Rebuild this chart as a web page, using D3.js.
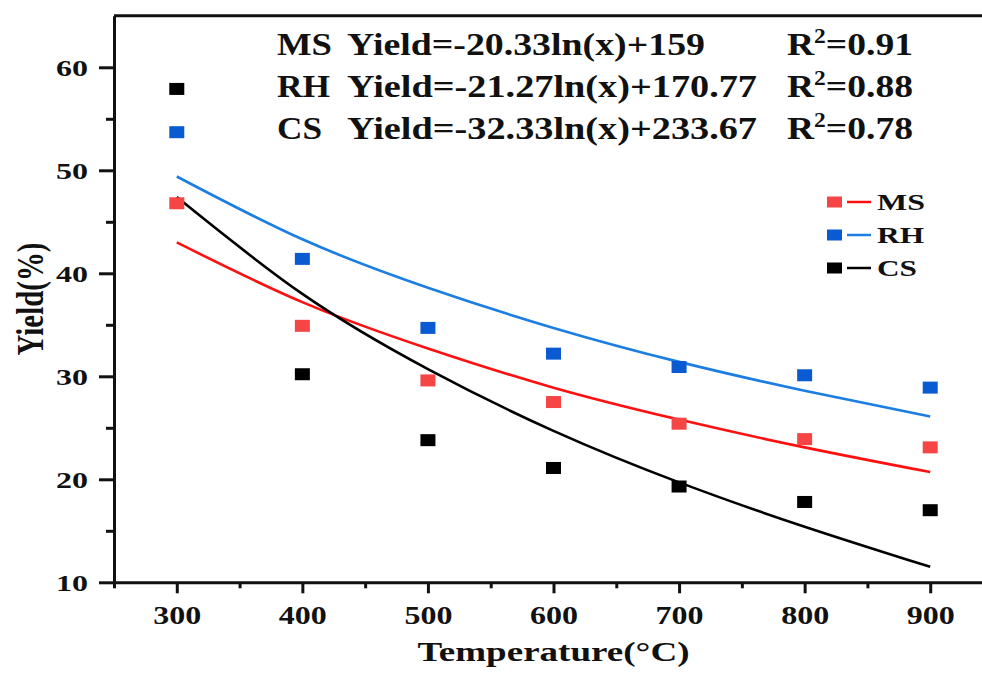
<!DOCTYPE html>
<html>
<head>
<meta charset="utf-8">
<script src="https://cdn.jsdelivr.net/npm/d3@7"></script>
<style>
  html, body { margin: 0; padding: 0; background: #fff; overflow: hidden; }
  svg { display: block; }
  svg text { font-family: "Liberation Serif", "Times New Roman", Times, serif; font-weight: bold; fill: #111; }
</style>
</head>
<body>
<svg id="chart" width="982" height="674"></svg>
<script>
// data
var temps = [300, 400, 500, 600, 700, 800, 900];
var msYield = [46.8, 34.9, 29.6, 27.5, 25.4, 23.9, 23.1];
var rhYield = [53.7, 41.4, 34.7, 32.2, 30.9, 30.1, 28.9];
var csYield = [57.9, 30.2, 23.8, 21.1, 19.3, 17.8, 17.0];
// fitted curves, sampled from the drawn lines
var msFit = [43.0, 37.2, 32.7, 28.9, 25.8, 23.1, 20.7];
var rhFit = [49.4, 43.3, 38.6, 34.7, 31.4, 28.6, 26.1];
var csFit = [47.4, 38.0, 30.7, 24.7, 19.7, 15.4, 11.5];

var xTicks = [300, 400, 500, 600, 700, 800, 900];
var xMinor = [250, 350, 450, 550, 650, 750, 850];
var yTicks = [10, 20, 30, 40, 50, 60];
var yMinor = [15, 25, 35, 45, 55];

var seriesNames = ['MS', 'RH', 'CS'];
var equations = ['Yield=-20.33ln(x)+159', 'Yield=-21.27ln(x)+170.77', 'Yield=-32.33ln(x)+233.67'];
var r2Values = ['0.91', '0.88', '0.78'];

var svg = d3.select('#chart');
var x = d3.scaleLinear().domain([250, 950]).range([114, 993]);
var y = d3.scaleLinear().domain([10, 65]).range([582.3, 15.8]);

var series = [
	{name: 'MS', pts: msYield, fit: msFit, marker: '#f54545', line: '#ff1010'},
	{name: 'RH', pts: rhYield, fit: rhFit, marker: '#0a5ad2', line: '#1c7de2'},
	{name: 'CS', pts: csYield, fit: csFit, marker: '#000000', line: '#000000'}
];

//top frame line (the right side is cut off in the picture)
svg.append('line')
	.attr('x1', x(250)).attr('x2', 982).attr('y1', y(65)).attr('y2', y(65))
	.attr('stroke', '#111').attr('stroke-width', 3);

//axes
function styleAxis(g)
{
	g.select('.domain').attr('stroke', '#111').attr('stroke-width', 3);
	g.selectAll('.tick line').attr('stroke', '#111').attr('stroke-width', 3);
	g.selectAll('text').attr('font-family', null).attr('font-size', null).attr('fill', '#111');
}

var yAxis = svg.append('g').attr('transform', 'translate(' + x(250) + ',0)')
	.call(d3.axisLeft(y).tickValues(yTicks).tickSize(15).tickSizeOuter(0).tickPadding(11).tickFormat(d3.format('d')));
styleAxis(yAxis);
yAxis.selectAll('text').style('font-size', '24px').attr('dy', '0.36em').attr('textLength', 32).attr('lengthAdjust', 'spacingAndGlyphs');

var yAxisMinor = svg.append('g').attr('transform', 'translate(' + x(250) + ',0)')
	.call(d3.axisLeft(y).tickValues(yMinor).tickSize(8).tickSizeOuter(0).tickFormat(''));
styleAxis(yAxisMinor);
yAxisMinor.select('.domain').remove();

var xAxis = svg.append('g').attr('transform', 'translate(0,' + y(10) + ')')
	.call(d3.axisBottom(x).tickValues(xTicks).tickSize(11).tickSizeOuter(0).tickPadding(12).tickFormat(d3.format('d')));
styleAxis(xAxis);
xAxis.selectAll('text').style('font-size', '26px').attr('textLength', 48).attr('lengthAdjust', 'spacingAndGlyphs');

var xAxisMinor = svg.append('g').attr('transform', 'translate(0,' + y(10) + ')')
	.call(d3.axisBottom(x).tickValues(xMinor).tickSize(6).tickSizeOuter(0).tickFormat(''));
styleAxis(xAxisMinor);
xAxisMinor.select('.domain').remove();

//axis titles
svg.append('text')
	.attr('x', (x(250) + x(950)) / 2).attr('y', 661)
	.attr('text-anchor', 'middle').style('font-size', '28px')
	.attr('textLength', 272).attr('lengthAdjust', 'spacingAndGlyphs')
	.text('Temperature(°C)');

svg.append('text')
	.attr('transform', 'translate(43,' + ((y(10) + y(65)) / 2) + ') scale(1.3,1) rotate(-90)')
	.attr('text-anchor', 'middle').style('font-size', '29px')
	.attr('textLength', 113).attr('lengthAdjust', 'spacingAndGlyphs')
	.text('Yield(%)');

//fit curves
var line = d3.line()
	.x(function (d, i) { return x(temps[i]); })
	.y(function (d) { return y(d); })
	.curve(d3.curveNatural);

series.forEach(function (s)
{
	svg.append('path').datum(s.fit)
		.attr('d', line)
		.attr('fill', 'none').attr('stroke', s.line).attr('stroke-width', 2.6);
});

//data points
var mw = 15, mh = 12;
series.forEach(function (s)
{
	svg.append('g').selectAll('rect').data(s.pts).enter().append('rect')
		.attr('x', function (d, i) { return x(temps[i]) - mw / 2; })
		.attr('y', function (d) { return y(d) - mh / 2; })
		.attr('width', mw).attr('height', mh)
		.attr('fill', s.marker);
});

//equations
var eqBase = [55, 97, 139];
var prefixW = [55, 53, 45];
var eqW = [358, 410, 410];
seriesNames.forEach(function (n, i)
{
	svg.append('text').attr('x', 277).attr('y', eqBase[i]).style('font-size', '32px')
		.attr('textLength', prefixW[i]).attr('lengthAdjust', 'spacingAndGlyphs').text(n);
	svg.append('text').attr('x', 347).attr('y', eqBase[i]).style('font-size', '32px')
		.attr('textLength', eqW[i]).attr('lengthAdjust', 'spacingAndGlyphs').text(equations[i]);
	var r = svg.append('text').attr('x', 787).attr('y', eqBase[i]).style('font-size', '32px')
		.attr('textLength', 126).attr('lengthAdjust', 'spacingAndGlyphs');
	r.append('tspan').text('R');
	r.append('tspan').attr('dy', -12).style('font-size', '20px').text('2');
	r.append('tspan').attr('dy', 12).text('=' + r2Values[i]);
});

//legend
var legY = [202, 235, 268];
var legW = [48, 47, 40];
series.forEach(function (s, i)
{
	svg.append('rect').attr('x', 827).attr('y', legY[i] - 5.5).attr('width', 15).attr('height', 11).attr('fill', s.marker);
	svg.append('line').attr('x1', 847).attr('x2', 871).attr('y1', legY[i]).attr('y2', legY[i])
		.attr('stroke', s.line).attr('stroke-width', 2.5);
	svg.append('text').attr('x', 877).attr('y', legY[i] + 7.5).style('font-size', '23px')
		.attr('textLength', legW[i]).attr('lengthAdjust', 'spacingAndGlyphs').text(s.name);
});
</script>
</body>
</html>
